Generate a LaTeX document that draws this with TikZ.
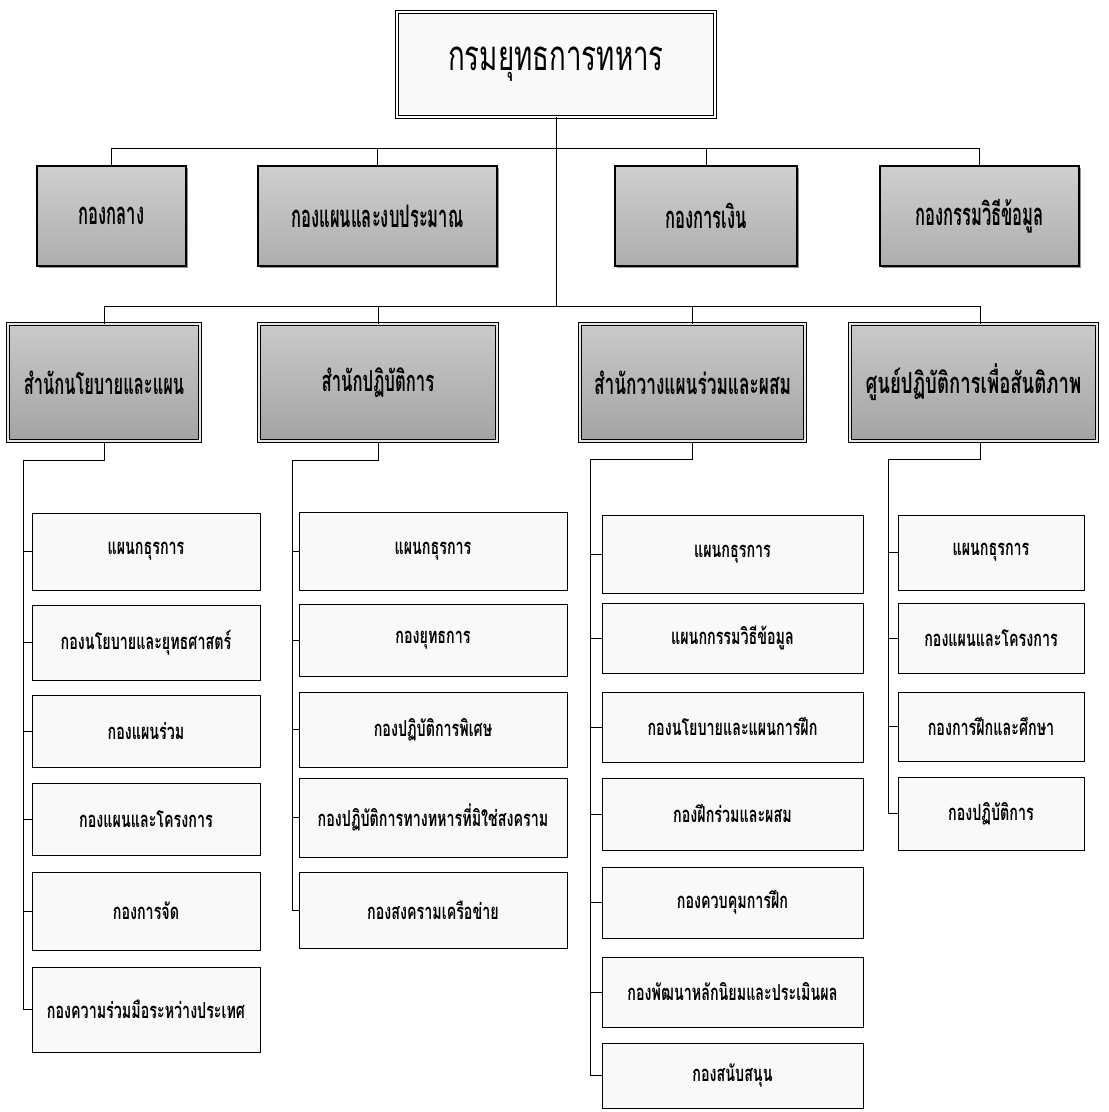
\documentclass[tikz,border=0pt]{standalone}
\usepackage{fontspec}
\newfontfamily\thai[Script=Thai]{Loma}
\usetikzlibrary{shadows}
\newcommand\xs{0.8}
\newcommand\cnd[1]{\scalebox{\xs}[1]{#1}}
\newcommand\bx[7]{\node[#2, minimum width={(#5-#3)*1pt}, minimum height={(#6-#4)*1pt}] (#1) at ({(#3+#5)/2},{(#4+#6)/2}) {\cnd{#7}};}
\tikzset{
 base/.style={draw=black, inner sep=0pt},
 sx/.style={execute at begin node={\renewcommand\xs{#1}}},
 topbox/.style={base, double=white, double distance=1.6pt, line width=0.9pt, fill=gray!5,
   drop shadow={shadow xshift=1.5pt, shadow yshift=-1.5pt, fill=black!70},
   font=\thai\fontsize{42}{48}\selectfont\renewcommand\xs{0.66}},
 lvtwo/.style={base, line width=1.3pt, top color=gray!38, bottom color=gray!64,
   drop shadow={shadow xshift=1.5pt, shadow yshift=-1.5pt, fill=black!85},
   font=\thai\bfseries\fontsize{31}{36}\selectfont\renewcommand\xs{0.535}},
 lvthree/.style={base, line width=1pt, double=gray!20, double distance=1.6pt, top color=gray!42, bottom color=gray!72,
   drop shadow={shadow xshift=2pt, shadow yshift=-2pt, fill=black!85},
   font=\thai\bfseries\fontsize{29}{34}\selectfont\renewcommand\xs{0.58}},
 child/.style={base, line width=1pt, fill=gray!5,
   drop shadow={shadow xshift=1.3pt, shadow yshift=-1.3pt, fill=black!80},
   font=\thai\bfseries\fontsize{22}{26}\selectfont\renewcommand\xs{0.65}},
 conn/.style={draw=black, line width=0.7pt},
}
\begin{document}
\begin{tikzpicture}[x=1pt,y=-1pt]
\useasboundingbox[fill=white] (0,0) rectangle (1109,1112);
% top
\bx{top}{topbox}{397}{12}{715}{117}{กรมยุทธการทหาร}
% row 2
\bx{ra}{lvtwo}{37}{166}{186}{266}{กองกลาง}
\bx{rb}{lvtwo}{258}{166}{497}{266}{กองแผนและงบประมาณ}
\bx{rc}{lvtwo}{615}{166}{797}{266}{กองการเงิน}
\bx{rd}{lvtwo}{880}{166}{1079}{266}{กองกรรมวิธีข้อมูล}
% row 3
\bx{sa}{lvthree,sx=0.567}{8}{324}{200}{441}{สำนักนโยบายและแผน}
\bx{sb}{lvthree,sx=0.575}{259}{324}{497}{441}{สำนักปฏิบัติการ}
\bx{sc}{lvthree,sx=0.596}{580}{324}{805}{441}{สำนักวางแผนร่วมและผสม}
\bx{sd}{lvthree,sx=0.64}{850}{324}{1097}{441}{ศูนย์ปฏิบัติการเพื่อสันติภาพ}
% column 1
\bx{a1}{child}{32}{513}{260}{590}{แผนกธุรการ}
\bx{a2}{child}{32}{605}{260}{680}{กองนโยบายและยุทธศาสตร์}
\bx{a3}{child}{32}{695}{260}{767}{กองแผนร่วม}
\bx{a4}{child}{32}{783}{260}{855}{กองแผนและโครงการ}
\bx{a5}{child}{32}{872}{260}{950}{กองการจัด}
\bx{a6}{child}{32}{967}{260}{1052}{กองความร่วมมือระหว่างประเทศ}
% column 2
\bx{b1}{child}{299}{512}{567}{590}{แผนกธุรการ}
\bx{b2}{child}{299}{604}{567}{676}{กองยุทธการ}
\bx{b3}{child}{299}{692}{567}{767}{กองปฏิบัติการพิเศษ}
\bx{b4}{child}{299}{778}{567}{857}{กองปฏิบัติการทางทหารที่มิใช่สงคราม}
\bx{b5}{child}{299}{872}{567}{948}{กองสงครามเครือข่าย}
% column 3
\bx{c1}{child}{602}{515}{863}{593}{แผนกธุรการ}
\bx{c2}{child}{602}{603}{863}{673}{แผนกกรรมวิธีข้อมูล}
\bx{c3}{child}{602}{692}{863}{762}{กองนโยบายและแผนการฝึก}
\bx{c4}{child}{602}{778}{863}{850}{กองฝึกร่วมและผสม}
\bx{c5}{child}{602}{867}{863}{938}{กองควบคุมการฝึก}
\bx{c6}{child}{602}{957}{863}{1027}{กองพัฒนาหลักนิยมและประเมินผล}
\bx{c7}{child}{602}{1043}{863}{1108}{กองสนับสนุน}
% column 4
\bx{d1}{child}{898}{515}{1084}{590}{แผนกธุรการ}
\bx{d2}{child}{898}{603}{1084}{673}{กองแผนและโครงการ}
\bx{d3}{child}{898}{692}{1084}{761}{กองการฝึกและศึกษา}
\bx{d4}{child}{898}{777}{1084}{850}{กองปฏิบัติการ}
% junctions
\coordinate (j2) at (556,148);
\coordinate (j3) at (556,306);
\coordinate (s1) at (23,460);
\coordinate (s2) at (292,460);
\coordinate (s3) at (590,459);
\coordinate (s4) at (888,459);
% connectors
\draw[conn] (top.south) -- (j3);
\foreach \n in {ra,rb,rc,rd} \draw[conn] (j2) -| (\n.north);
\foreach \n in {sa,sb,sc} \draw[conn] (j3) -| (\n.north);
\draw[conn] (j3) -| ([xshift=7pt]sd.north);
\draw[conn] (sa.south) |- (s1);
\draw[conn] (sb.south) |- (s2);
\draw[conn] (sc.south) |- (s3);
\draw[conn] ([xshift=7pt]sd.south) |- (s4);
\foreach \n in {a1,a2,a3,a4,a5,a6} \draw[conn] (s1) |- (\n.west);
\foreach \n in {b1,b2,b3,b4,b5} \draw[conn] (s2) |- (\n.west);
\foreach \n in {c1,c2,c3,c4,c5,c6,c7} \draw[conn] (s3) |- (\n.west);
\foreach \n in {d1,d2,d3,d4} \draw[conn] (s4) |- (\n.west);
\end{tikzpicture}
\end{document}
